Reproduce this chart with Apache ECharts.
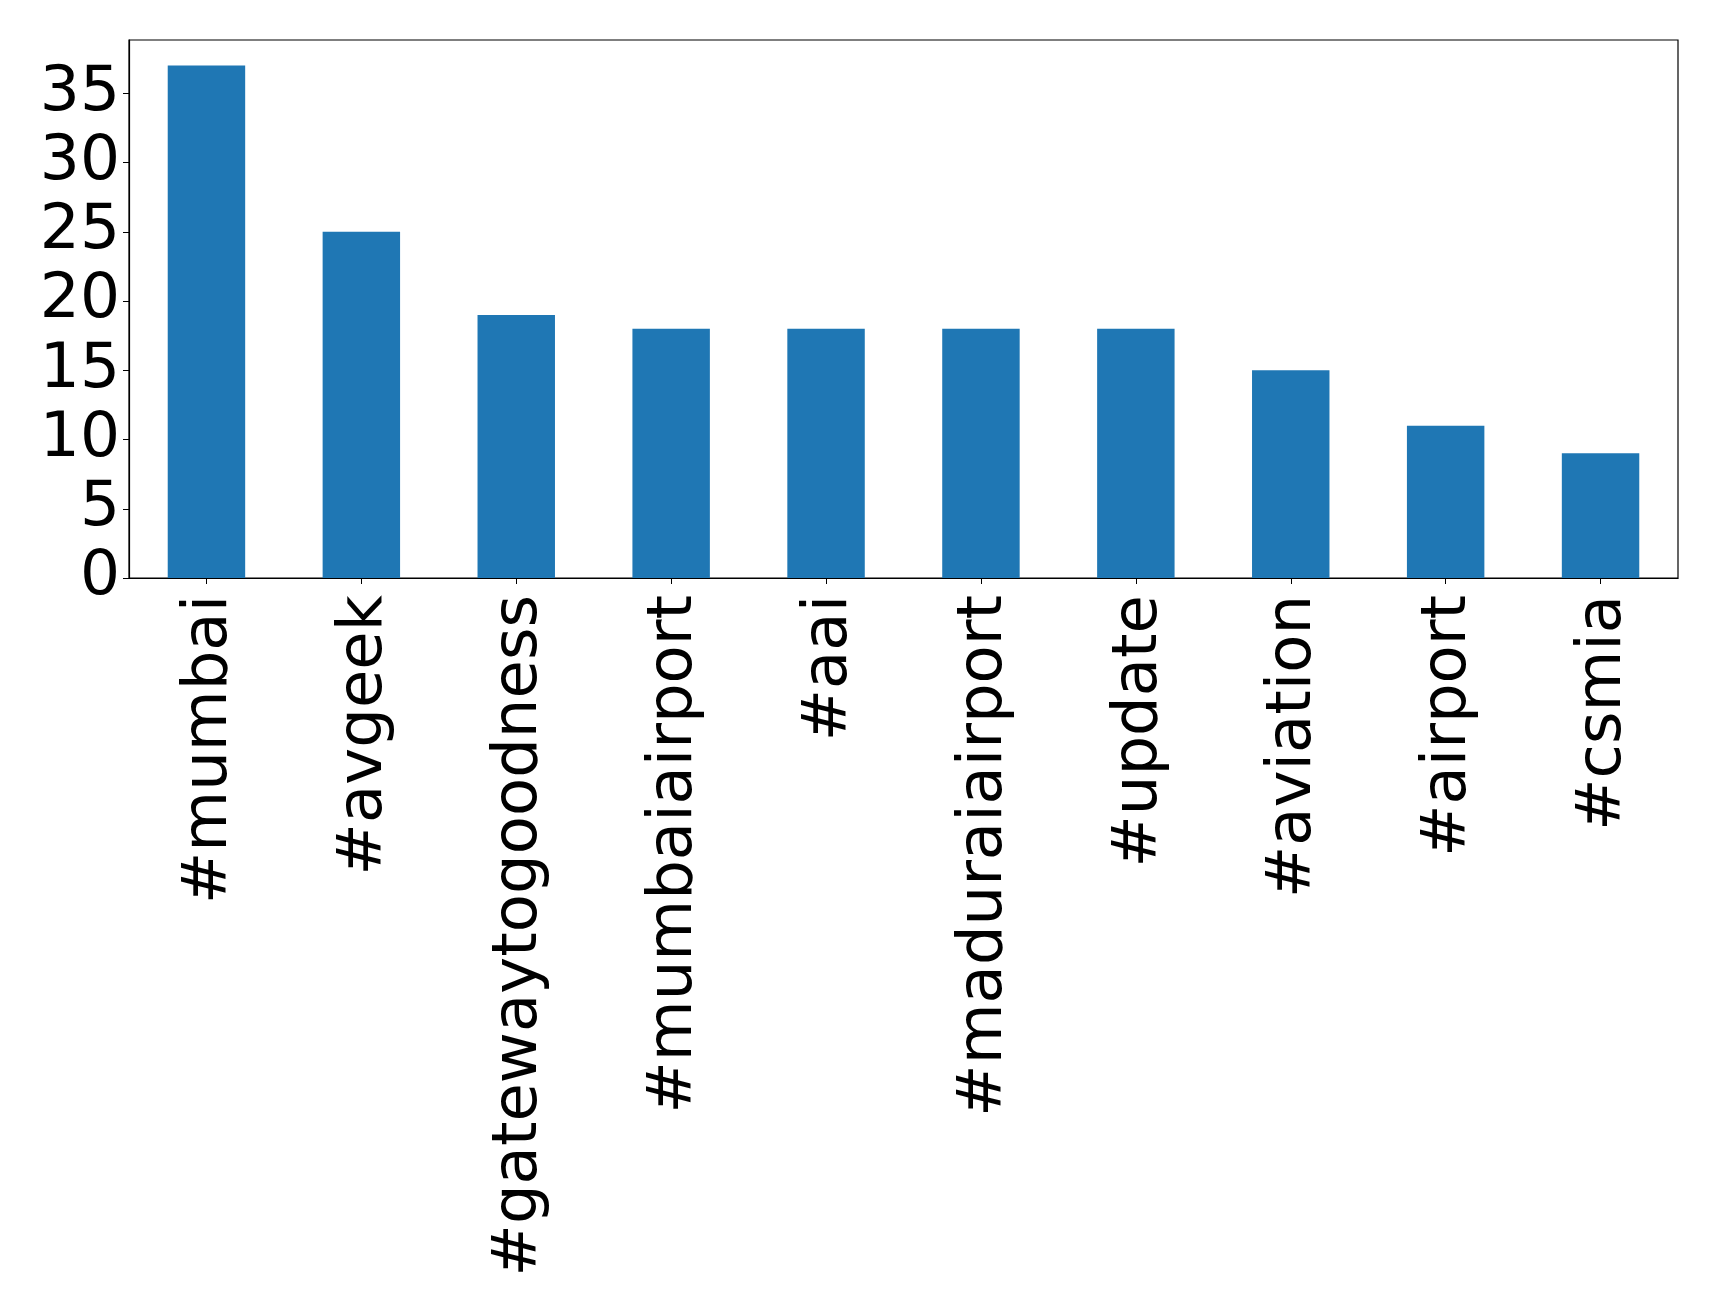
<!DOCTYPE html>
<html>
<head>
<meta charset="utf-8">
<script src="https://cdn.jsdelivr.net/npm/echarts@6/dist/echarts.min.js"></script>
<style>html,body{margin:0;padding:0;background:#fff;}#c{width:1719px;height:1309px;}</style>
</head>
<body>
<div id="c"></div>
<script>
const categories = ['#mumbai','#avgeek','#gatewaytogoodness','#mumbaiairport','#aai','#maduraiairport','#update','#aviation','#airport','#csmia'];
const counts = [37, 25, 19, 18, 18, 18, 18, 15, 11, 9];
const yTicks = [0, 5, 10, 15, 20, 25, 30, 35];

const chart = echarts.init(document.getElementById('c'), null, {renderer: 'canvas'});
const font = 'DejaVu Sans';
chart.setOption({
  animation: false,
  backgroundColor: '#fff',
  grid: {left: 129, right: 41, top: 40, bottom: 731, show: true, borderColor: '#000', borderWidth: 1.2, backgroundColor: 'transparent'},
  xAxis: {
    type: 'category',
    data: categories,
    axisLine: {show: true, lineStyle: {color: '#000', width: 1.2}},
    axisTick: {show: true, alignWithLabel: true, length: 6, lineStyle: {color: '#000', width: 1}},
    axisLabel: {
      rotate: 90, fontFamily: font, fontSize: 62.5, color: '#000', margin: 17, interval: 0,
      formatter: function (v) { return '{t|' + v + '}'; },
      rich: {t: {fontFamily: font, fontSize: 62.5, color: '#000', padding: [7, 0, 0, 0]}}
    }
  },
  yAxis: {
    type: 'value',
    min: 0,
    max: 38.85,
    interval: 5,
    axisLine: {show: true, lineStyle: {color: '#000', width: 1.2}},
    axisTick: {show: true, length: 6, lineStyle: {color: '#000', width: 1}, customValues: yTicks},
    splitLine: {show: false},
    axisLabel: {
      fontFamily: font, fontSize: 63, color: '#000', margin: 9,
      customValues: yTicks,
      formatter: function (v) { return String(v); }
    }
  },
  series: [{
    type: 'bar',
    data: counts,
    barWidth: '50%',
    itemStyle: {color: '#1f77b4'}
  }]
});
</script>
</body>
</html>
